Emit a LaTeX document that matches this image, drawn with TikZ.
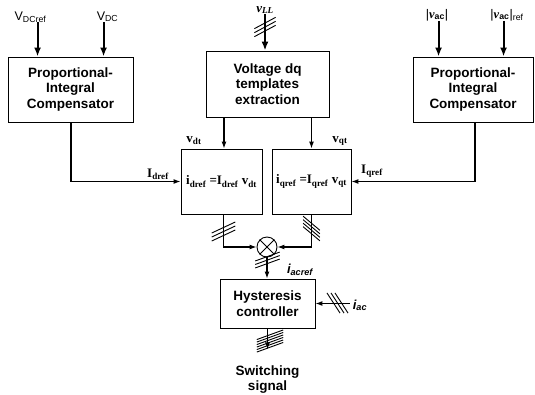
\documentclass[tikz,border=0pt]{standalone}
\usepackage{fontspec}
\setmainfont{Liberation Serif}
\setsansfont{Liberation Sans}
\usetikzlibrary{arrows.meta}
\usetikzlibrary{calc}
\tikzset{
boxtext/.style = {align=center, inner sep=0pt,
                  font=\sffamily\bfseries\fontsize{13.5}{15.5}\selectfont},
block/.style = {boxtext, draw, line width=0.9pt},
prod/.style = {draw, line width=0.9pt, inner sep=0pt,
               font=\bfseries\fontsize{13}{15}\selectfont},
sig/.style = {line width=1.1pt, -{Latex[length=7pt,width=5pt]}},
insig/.style = {line width=2pt, -{Latex[length=9pt,width=7pt]}},
lab/.style = {inner sep=0pt, anchor=base},
busline/.style = {line width=0.9pt}
}
% strokes across a bus: point, line direction, stroke angle, half length, offsets
\newcommand{\bus}[5]{\foreach \s in {#5}
  \draw[busline] ($(#1)+(#2:\s)$) ++(#3:-#4) -- ++(#3:#4) -- ++(#3:#4);}

\begin{document}
\begin{tikzpicture}[x=1pt,y=-1pt]
        \useasboundingbox (0,0) rectangle (535,394);
        % blocks
        \node[block, minimum width=125, minimum height=65] (piD) at (70.5,89.5) {Proportional-\\Integral\\Compensator};
        \node[block, minimum width=123, minimum height=66] (vdq) at (267.5,84) {Voltage dq\\templates\\extraction};
        \node[block, minimum width=120, minimum height=65] (piQ) at (473,89.5) {Proportional-\\Integral\\Compensator};
        \node[prod, minimum width=81, minimum height=65] (mulD) at (221.5,181.5) {i\textsubscript{dref} =I\textsubscript{dref} v\textsubscript{dt}};
        \node[prod, minimum width=79, minimum height=65] (mulQ) at (311.5,181.5) {i\textsubscript{qref} =I\textsubscript{qref} v\textsubscript{qt}};
        \node[draw, circle, line width=0.9pt, minimum size=20, inner sep=0pt] (sum) at (267,247) {};
        \draw[line width=0.9pt] (sum.north west) -- (sum.south east) (sum.north east) -- (sum.south west);
        \node[block, minimum width=95, minimum height=49] (hyst) at (267.5,303.5) {Hysteresis\\controller};
        \coordinate (swend) at ([yshift=-21]hyst.south);
        \node[boxtext, anchor=north] (sw) at ([yshift=-16]swend) {Switching\\signal};
        % labels
        \node[lab, font=\sffamily\fontsize{12.5}{14}\selectfont] (vdcref) at (30.5,20) {V\textsubscript{DCref}};
        \node[lab, font=\sffamily\fontsize{12.5}{14}\selectfont] (vdc) at (107.5,20) {V\textsubscript{DC}};
        \node[lab, font=\sffamily\fontsize{12.5}{14}\selectfont] (vac) at (437,18) {|\textbf{\textit{\rmfamily v}}\textsubscript{\bfseries ac}|};
        \node[lab, font=\sffamily\fontsize{12.5}{14}\selectfont] (vacref) at (507,18) {|\textbf{\textit{\rmfamily v}}\textsubscript{\bfseries ac}|\textsubscript{ref}};
        \node[lab, font=\bfseries\itshape\fontsize{13}{15}\selectfont] (vll) at (265,12) {v\textsubscript{LL}};
        \node[lab, font=\bfseries\fontsize{13}{15}\selectfont] (vdt) at (194,142) {v\textsubscript{dt}};
        \node[lab, font=\bfseries\fontsize{13}{15}\selectfont] (vqt) at (340,142) {v\textsubscript{qt}};
        \node[lab, font=\bfseries\fontsize{13}{15}\selectfont] (idref) at (158,177) {I\textsubscript{dref}};
        \node[lab, font=\bfseries\fontsize{13}{15}\selectfont] (iqref) at (372,173) {I\textsubscript{qref}};
        \node[lab, font=\sffamily\bfseries\itshape\fontsize{13}{15}\selectfont] (iacref) at (300,273) {i\textsubscript{acref}};
        \node[lab, font=\sffamily\bfseries\itshape\fontsize{13}{15}\selectfont] (iac) at (360,309) {i\textsubscript{ac}};
        % inputs
        \coordinate (dcrefIn) at ([xshift=30]piD.north west);
        \coordinate (dcIn) at ([xshift=96]piD.north west);
        \coordinate (acIn) at ([xshift=26]piQ.north west);
        \coordinate (acrefIn) at ([xshift=91]piQ.north west);
        \coordinate (llIn) at ([xshift=-2.5]vdq.north);
        \draw[insig] (vdcref.south -| dcrefIn) -- (dcrefIn);
        \draw[insig] (vdc.south -| dcIn) -- (dcIn);
        \draw[insig] (vac.south -| acIn) -- (acIn);
        \draw[insig] (vacref.south -| acrefIn) -- (acrefIn);
        \draw[insig] (vll.south -| llIn) -- (llIn);
        % connectors
        \coordinate (dtIn) at ([xshift=2.5]mulD.north);
        \coordinate (dOut) at ([xshift=2]mulD.south);
        \draw[sig] ([xshift=0.5]piD.south) |- (mulD.west);
        \draw[sig] ([xshift=2]piQ.south) |- (mulQ.east);
        \draw[sig] (vdq.south -| dtIn) -- (dtIn);
        \draw[sig] (vdq.south -| mulQ.north) -- (mulQ.north);
        \draw[sig] (dOut) |- (sum.west);
        \draw[sig] (mulQ.south) |- (sum.east);
        \draw[sig] (sum.south) -- (sum.south |- hyst.north);
        \draw[sig] ([xshift=-3]iac.west |- hyst.east) -- (hyst.east);
        \draw[sig] (hyst.south -| swend) -- (swend);
        % bus strokes
        \bus{265,27}{90}{-28}{12}{-4,0,4};
        \bus{223.5,231.5}{90}{-25}{13}{-4,0,4};
        \bus{311.5,228.5}{90}{40}{11}{-5.25,-1.75,1.75,5.25};
        \bus{267.5,260}{90}{-20}{13}{-3.5,0,3.5};
        \bus{337.5,303}{0}{57}{12}{-4,0,4};
        \bus{270,341}{90}{-20}{14}{-6.25,-3.75,-1.25,1.25,3.75,6.25};
\end{tikzpicture}
\end{document}
